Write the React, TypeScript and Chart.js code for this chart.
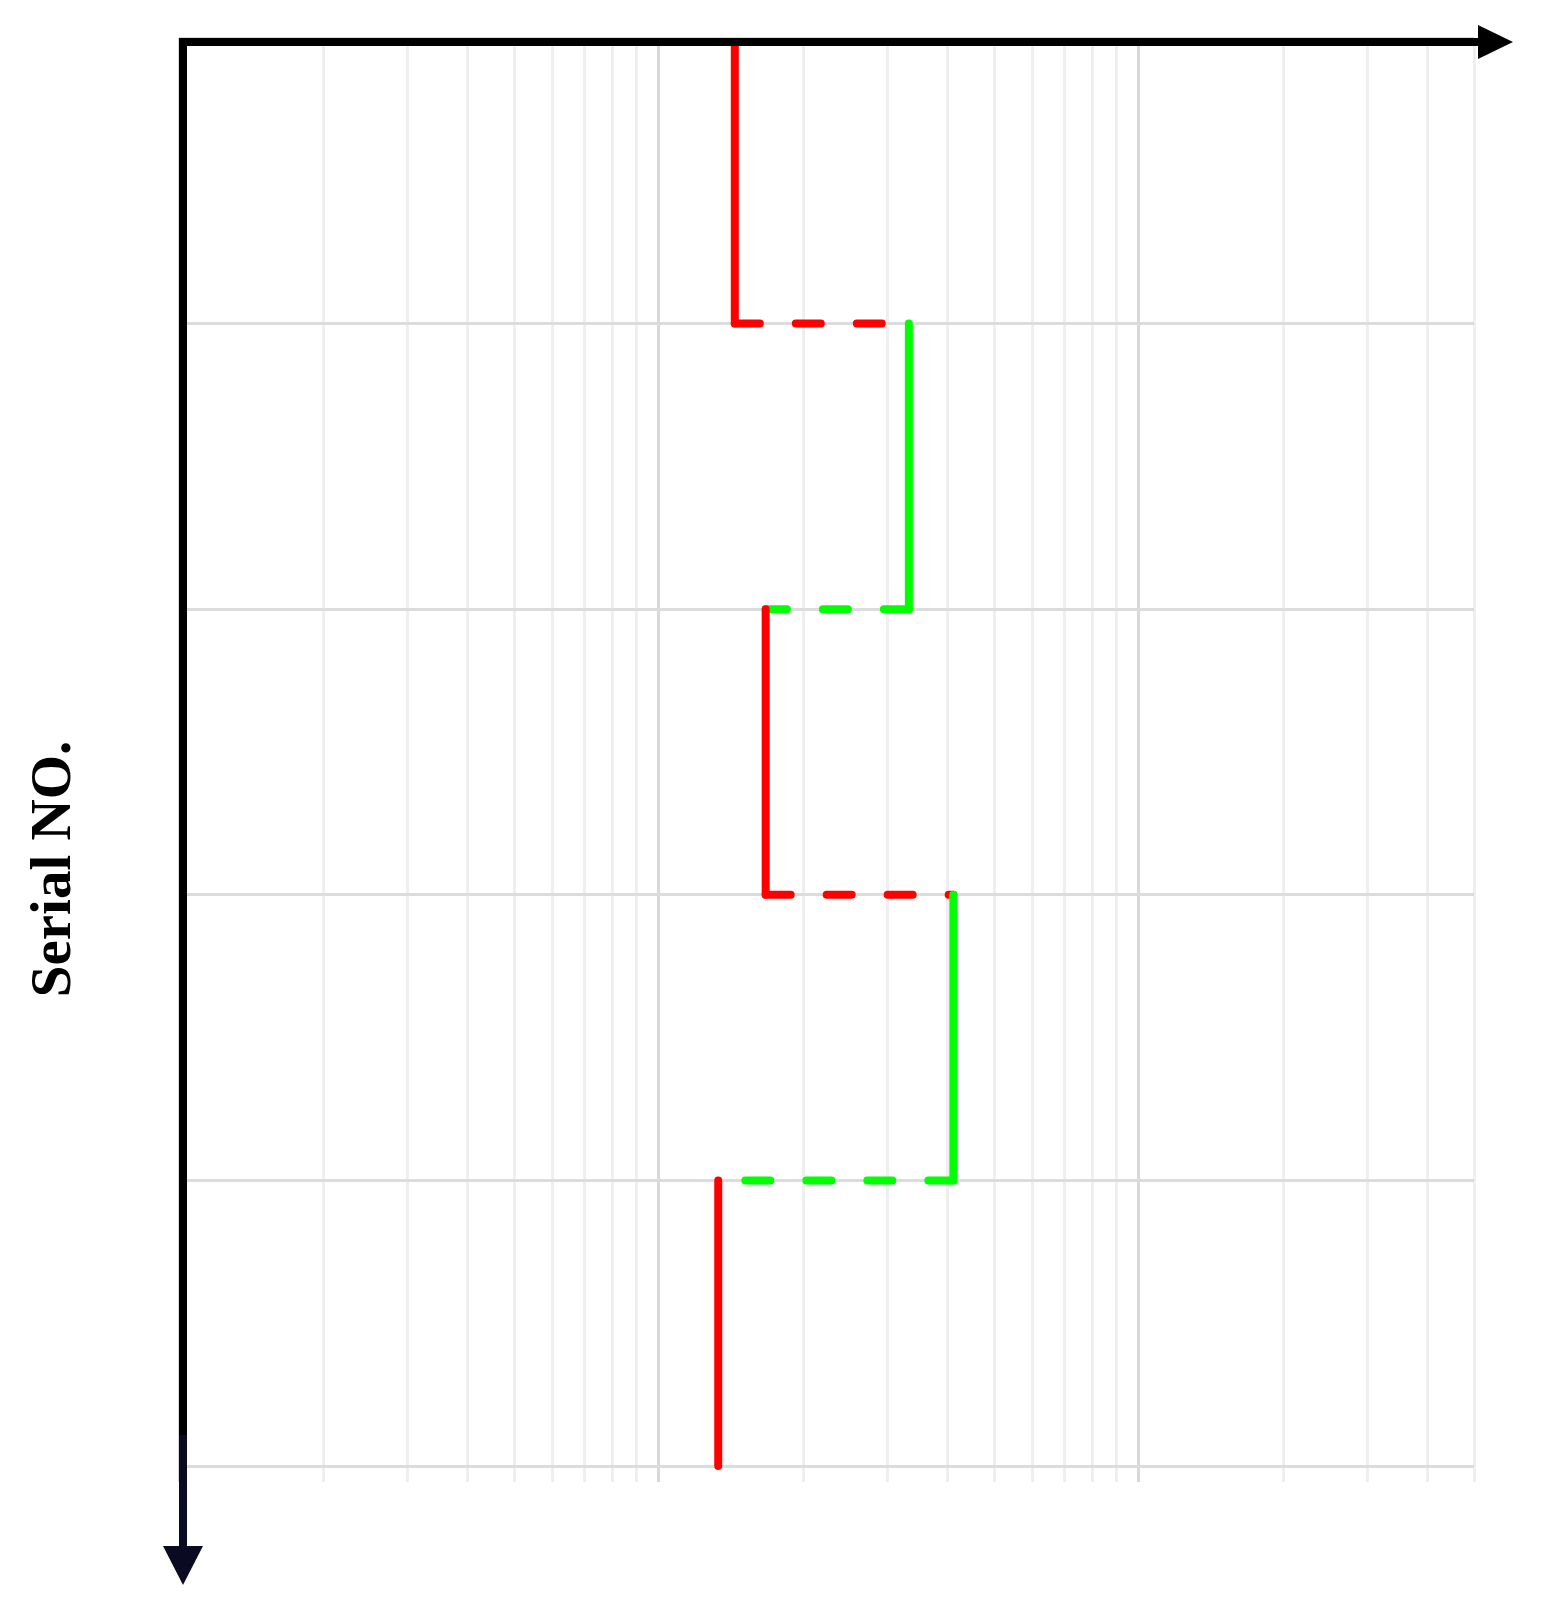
import React, { useEffect, useRef } from "react";
import { Chart, registerables } from "chart.js";

Chart.register(...registerables);

const serialBoundaries = [0, 1, 2, 3, 4, 5];
const layerValues = [14.4, 33.2, 16.7, 41.1, 13.3];
const layerColors = ["#ff0000", "#00ff00", "#ff0000", "#00ff00", "#ff0000"];
const xRange = [1, 500];
const yLabel = "Serial NO.";

const arrowAxes = {
  id: "arrowAxes",
  afterDraw(chart: any) {
    const ctx = chart.ctx as CanvasRenderingContext2D;
    const { left, top } = chart.chartArea;
    const w = 8;
    ctx.save();
    // top axis with right arrow
    ctx.fillStyle = "#000000";
    const arrowBaseX = 1478;
    ctx.fillRect(left, top, arrowBaseX - left, w);
    const cy = top + w / 2;
    ctx.beginPath();
    ctx.moveTo(arrowBaseX, cy - 17);
    ctx.lineTo(arrowBaseX + 35, cy);
    ctx.lineTo(arrowBaseX, cy + 17);
    ctx.closePath();
    ctx.fill();
    // left axis with down arrow
    const cx = left + w / 2;
    const arrowBaseY = 1546;
    ctx.fillRect(left, top, w, 1435 - top);
    ctx.fillStyle = "#0a0a23";
    ctx.fillRect(left, 1435, w, arrowBaseY - 1435);
    ctx.beginPath();
    ctx.moveTo(cx - 20, arrowBaseY);
    ctx.lineTo(cx + 20, arrowBaseY);
    ctx.lineTo(cx, arrowBaseY + 39);
    ctx.closePath();
    ctx.fill();
    // axis label
    ctx.fillStyle = "#000000";
    ctx.font = "bold 57px 'Liberation Serif', 'Times New Roman', serif";
    ctx.textAlign = "center";
    ctx.textBaseline = "alphabetic";
    ctx.translate(70, 869);
    ctx.rotate(-Math.PI / 2);
    ctx.fillText(yLabel, 0, 0);
    ctx.restore();
  },
};

export default function App() {
  const ref = useRef<HTMLCanvasElement | null>(null);

  useEffect(() => {
    if (!ref.current) return;
    const datasets: any[] = [];
    // vertical solid segments per layer
    layerValues.forEach((v, i) => {
      datasets.push({
        data: [
          { x: v, y: serialBoundaries[i] },
          { x: v, y: serialBoundaries[i + 1] },
        ],
        borderColor: layerColors[i],
        backgroundColor: layerColors[i],
        borderWidth: 8,
        borderCapStyle: "round",
        borderJoinStyle: "round",
        pointRadius: 0,
        showLine: true,
        clip: i === 0 ? { top: 0, left: 10, right: 10, bottom: 10 } : 10,
      });
    });
    // dashed connectors between layers
    for (let i = 0; i < layerValues.length - 1; i++) {
      datasets.push({
        data: [
          { x: layerValues[i], y: serialBoundaries[i + 1] },
          { x: layerValues[i + 1], y: serialBoundaries[i + 1] },
        ],
        borderColor: layerColors[i],
        backgroundColor: layerColors[i],
        borderWidth: 8,
        borderDash: [25, 36],
        borderCapStyle: "round",
        pointRadius: 0,
        showLine: true,
        clip: 10,
      });
    }

    const chart = new Chart(ref.current, {
      type: "scatter",
      data: { datasets },
      plugins: [arrowAxes],
      options: {
        animation: false,
        responsive: false,
        layout: { padding: { left: 179, top: 38, right: 71, bottom: 129 } },
        plugins: { legend: { display: false }, tooltip: { enabled: false } },
        scales: {
          x: {
            type: "logarithmic",
            position: "bottom",
            min: xRange[0],
            max: xRange[1],
            border: { display: false },
            ticks: { display: false },
            afterBuildTicks: (axis: any) => {
              axis.ticks = axis.ticks.filter((t: any) => {
                const p = Math.pow(10, Math.floor(Math.log10(t.value) + 1e-9));
                const s = t.value / p;
                return Math.abs(s - Math.round(s)) < 1e-6;
              });
            },
            grid: {
              lineWidth: 3,
              tickLength: 16,
              drawTicks: true,
              color: (c: any) => {
                const v = c.tick ? c.tick.value : 0;
                const l = Math.log10(v);
                return Math.abs(l - Math.round(l)) < 1e-9 ? "#d8d8d8" : "#efefef";
              },
            },
          },
          y: {
            type: "linear",
            min: serialBoundaries[0],
            max: serialBoundaries[serialBoundaries.length - 1],
            reverse: true,
            border: { display: false },
            ticks: { display: false, stepSize: 1 },
            grid: { lineWidth: 3, color: "#dcdcdc", drawTicks: false, tickLength: 0 },
          },
        },
      },
    });
    return () => chart.destroy();
  }, []);

  return (
    <div style={{ position: "fixed", left: 0, top: 0, width: 1545, height: 1611, background: "#ffffff" }}>
      <canvas ref={ref} width={1545} height={1611} style={{ display: "block" }} />
    </div>
  );
}
